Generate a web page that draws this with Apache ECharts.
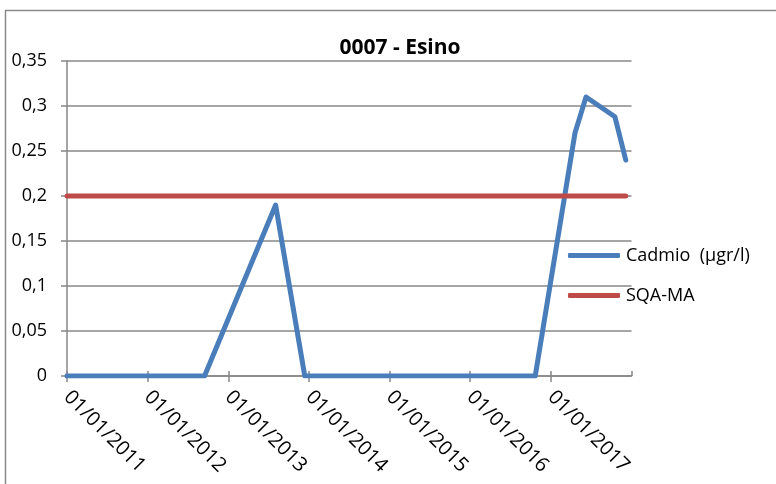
<!DOCTYPE html>
<html>
<head>
<meta charset="utf-8">
<script src="https://cdn.jsdelivr.net/npm/echarts@6/dist/echarts.min.js"></script>
<style>
  html, body { margin: 0; padding: 0; background: #fff; }
  #chart { width: 776px; height: 484px; }
</style>
</head>
<body>
<div id="chart"></div>
<script>
// Sampling dates and measured values for station 0007 - Esino
const sampleDates = [
  '2011-01-01', '2011-07-01', '2012-01-01', '2012-09-15', '2013-08-03',
  '2013-12-13', '2014-07-01', '2015-07-01', '2016-01-01', '2016-10-22',
  '2017-04-20', '2017-06-09', '2017-10-18', '2017-12-06'
];
const cadmio = [0, 0, 0, 0, 0.19, 0, 0, 0, 0, 0, 0.27, 0.31, 0.288, 0.24];
const sqaMa = [0.2, 0.2, 0.2, 0.2, 0.2, 0.2, 0.2, 0.2, 0.2, 0.2, 0.2, 0.2, 0.2, 0.2];
const seriesNames = ['Cadmio  (µgr/l)', 'SQA-MA'];
const axisStart = '2011-01-01';
const axisEnd = '2018-01-01';
const yTicks = { min: 0, max: 0.35, step: 0.05 };

const FONT = 'Open Sans';
const GRAY = '#878787';
const YEAR = 365 * 24 * 3600 * 1000;

function pairs(values) {
  return sampleDates.map((d, i) => [d, values[i]]);
}

const baseX = {
  type: 'time',
  min: axisStart,
  max: axisEnd,
  minInterval: YEAR,
  maxInterval: YEAR + 24 * 3600 * 1000,
  splitLine: { show: false }
};

const chart = echarts.init(document.getElementById('chart'), null, { renderer: 'canvas' });
chart.setOption({
  animation: false,
  backgroundColor: '#fff',
  title: {
    text: '0007 - Esino',
    left: 395,
    textAlign: 'center',
    top: 33,
    textStyle: { fontFamily: FONT, fontSize: 21, fontWeight: 'bold', color: '#000' }
  },
  graphic: [
    { type: 'line', shape: { x1: 5, y1: 10.5, x2: 776, y2: 10.5 }, style: { stroke: '#8a8a8a', lineWidth: 1.5 } },
    { type: 'line', shape: { x1: 5.5, y1: 10, x2: 5.5, y2: 484 }, style: { stroke: '#8a8a8a', lineWidth: 1.5 } }
  ],
  legend: {
    orient: 'vertical',
    left: 568,
    top: 245,
    padding: 0,
    itemWidth: 52,
    itemHeight: 5,
    itemGap: 19,
    icon: 'roundRect',
    data: seriesNames,
    textStyle: { fontFamily: FONT, fontSize: 18, color: '#000', lineHeight: 21, padding: [0, 0, 0, 1] }
  },
  grid: { left: 67, top: 61, right: 144.5, bottom: 108, containLabel: false },
  xAxis: [
    Object.assign({}, baseX, {
      axisLine: { show: true, lineStyle: { color: GRAY, width: 1.5 } },
      axisTick: { show: true, length: 6, lineStyle: { color: GRAY, width: 1.5 } },
      axisLabel: {
        rotate: -45,
        margin: 18,
        showMaxLabel: false,
        fontFamily: FONT,
        fontSize: 20,
        color: '#000',
        formatter: '{dd}/{MM}/{yyyy}'
      }
    }),
    Object.assign({}, baseX, {
      position: 'bottom',
      axisLine: { show: false },
      axisTick: { show: true, inside: true, length: 5, lineStyle: { color: GRAY, width: 1.5 } },
      axisLabel: { show: false }
    })
  ],
  yAxis: {
    type: 'value',
    min: yTicks.min,
    max: yTicks.max,
    interval: yTicks.step,
    axisLine: { show: true, lineStyle: { color: GRAY, width: 1.5 } },
    axisTick: { show: true, length: 6, lineStyle: { color: GRAY, width: 1.5 } },
    splitLine: { show: true, lineStyle: { color: GRAY, width: 1.5 } },
    axisLabel: {
      margin: 20,
      fontFamily: FONT,
      fontSize: 18,
      color: '#000',
      formatter: v => String(Math.round(v * 100) / 100).replace('.', ',')
    }
  },
  series: [
    {
      name: seriesNames[0],
      type: 'line',
      data: pairs(cadmio),
      showSymbol: false,
      symbol: 'none',
      color: '#4a7ebb',
      lineStyle: { width: 5, color: '#4a7ebb', cap: 'round', join: 'round' }
    },
    {
      name: seriesNames[1],
      type: 'line',
      data: pairs(sqaMa),
      showSymbol: false,
      symbol: 'none',
      color: '#be4b48',
      lineStyle: { width: 5, color: '#be4b48', cap: 'round', join: 'round' }
    }
  ]
});
</script>
</body>
</html>
